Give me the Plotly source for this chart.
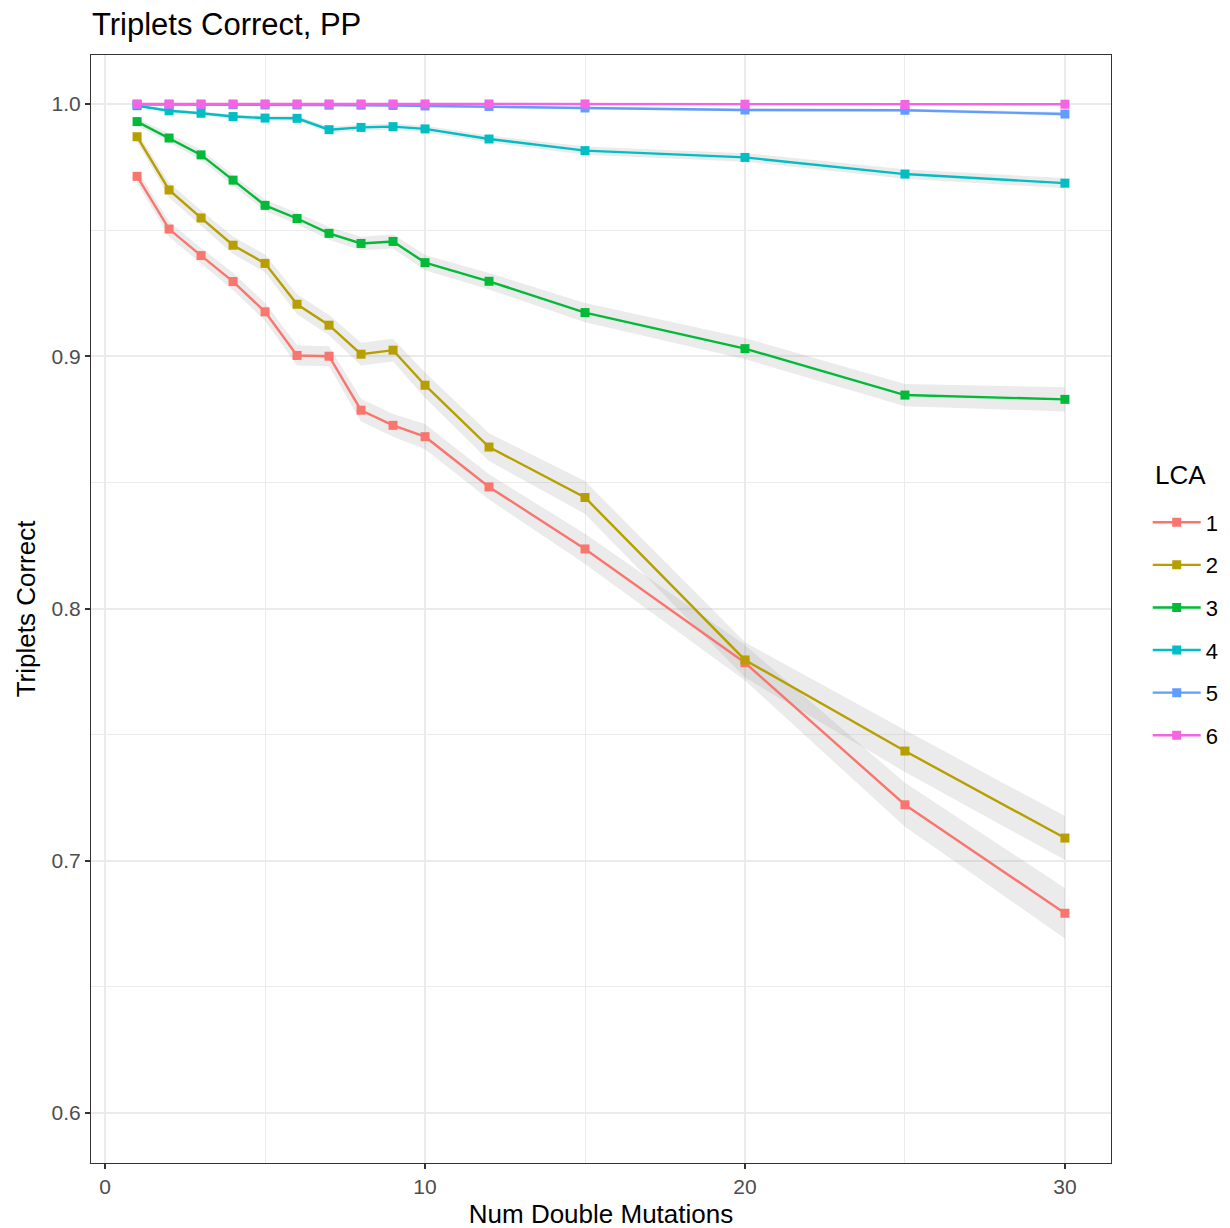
import plotly.graph_objects as go

x_vals = [1, 2, 3, 4, 5, 6, 7, 8, 9, 10, 12, 15, 20, 25, 30]
lca_labels = ["1", "2", "3", "4", "5", "6"]
colors = ["#F8766D", "#B79F00", "#00BA38", "#00BFC4", "#619CFF", "#F564E3"]

lca1 = [0.9713, 0.9504, 0.9399, 0.9296, 0.9176, 0.9003, 0.9000, 0.8786, 0.8726, 0.8681, 0.8482, 0.8236, 0.7785, 0.7222, 0.6792]
lca2 = [0.9870, 0.9659, 0.9548, 0.9440, 0.9368, 0.9206, 0.9123, 0.9008, 0.9024, 0.8885, 0.8640, 0.8440, 0.7796, 0.7435, 0.7090]
lca3 = [0.9930, 0.9865, 0.9798, 0.9698, 0.9598, 0.9546, 0.9487, 0.9447, 0.9455, 0.9371, 0.9297, 0.9173, 0.9030, 0.8846, 0.8829]
lca4 = [0.9993, 0.9973, 0.9963, 0.9950, 0.9944, 0.9943, 0.9898, 0.9907, 0.9910, 0.9901, 0.9861, 0.9815, 0.9788, 0.9722, 0.9686]
lca5 = [0.9998, 0.9998, 0.9997, 0.9997, 0.9996, 0.9996, 0.9995, 0.9995, 0.9994, 0.9992, 0.9990, 0.9984, 0.9976, 0.9975, 0.9960]
lca6 = [1.0000, 1.0000, 1.0000, 1.0000, 1.0000, 1.0000, 1.0000, 1.0000, 1.0000, 1.0000, 1.0000, 1.0000, 0.9999, 0.9998, 0.9999]

# half-width of grey confidence ribbons
se1 = [0.0025, 0.003, 0.003, 0.0035, 0.0035, 0.004, 0.004, 0.0045, 0.0045, 0.005, 0.005, 0.006, 0.007, 0.0087, 0.010]
se2 = [0.002, 0.003, 0.003, 0.0035, 0.0035, 0.004, 0.004, 0.0045, 0.0045, 0.005, 0.0055, 0.0065, 0.007, 0.0083, 0.0087]
se3 = [0.0015, 0.0018, 0.002, 0.002, 0.0022, 0.0023, 0.0025, 0.0027, 0.0028, 0.003, 0.0033, 0.0038, 0.0042, 0.0044, 0.0048]
se4 = [0.0004, 0.0006, 0.0007, 0.0008, 0.0009, 0.001, 0.0012, 0.0012, 0.0012, 0.0013, 0.0014, 0.0016, 0.0017, 0.0019, 0.002]
se5 = [0.0002, 0.0002, 0.0002, 0.0003, 0.0003, 0.0003, 0.0003, 0.0003, 0.0004, 0.0004, 0.0004, 0.0005, 0.0006, 0.0006, 0.0008]
se6 = [0.0001] * 15

series = [lca1, lca2, lca3, lca4, lca5, lca6]
ses = [se1, se2, se3, se4, se5, se6]

fig = go.Figure()

# ribbons first
for ys, se in zip(series, ses):
    upper = [y + s for y, s in zip(ys, se)]
    lower = [y - s for y, s in zip(ys, se)]
    fig.add_trace(go.Scatter(
        x=x_vals + x_vals[::-1],
        y=upper + lower[::-1],
        fill="toself",
        fillcolor="rgba(153,153,153,0.2)",
        line=dict(width=0),
        mode="lines",
        hoverinfo="skip",
        showlegend=False,
    ))

for lab, ys, col in zip(lca_labels, series, colors):
    fig.add_trace(go.Scatter(
        x=x_vals, y=ys, name=lab, legendgroup=lab,
        mode="lines+markers",
        line=dict(color=col, width=2.4),
        marker=dict(symbol="square", size=9, color=col),
    ))

grid_major = "#EBEBEB"
font_family = "Liberation Sans, Arial, sans-serif"

fig.update_layout(
    width=1230, height=1228,
    paper_bgcolor="white", plot_bgcolor="white",
    margin=dict(l=83, r=127, t=47, b=73),
    font=dict(family=font_family, color="black"),
    title=dict(text="Triplets Correct, PP", x=84/1230, xanchor="left",
               y=1 - 16/1228, yanchor="middle", yref="container",
               font=dict(size=31, color="black")),
    showlegend=True,
    legend=dict(font=dict(size=22), x=1.036, xanchor="left",
                y=0.482, yanchor="middle", tracegroupgap=11, itemwidth=48,
                bgcolor="rgba(0,0,0,0)"),
    annotations=[dict(text="LCA", xref="paper", yref="paper",
                      x=(1145 - 83) / 1020, xanchor="left",
                      y=1 - (467 - 47) / 1108, yanchor="middle",
                      showarrow=False, font=dict(size=26, color="black"))],
    xaxis=dict(
        range=[-0.44, 31.44], tickvals=[0, 10, 20, 30],
        showgrid=True, gridcolor=grid_major, gridwidth=2,
        minor=dict(tickvals=[5, 15, 25], showgrid=True, gridcolor=grid_major, gridwidth=1, ticks=""),
        zeroline=False, showline=True, mirror=True, linecolor="#333333", linewidth=1,
        ticks="outside", ticklen=5, tickcolor="#333333", tickwidth=2,
        tickfont=dict(size=21, color="#4D4D4D"),
        title=dict(text="Num Double Mutations", font=dict(size=26), standoff=7),
    ),
    yaxis=dict(
        range=[0.5802, 1.0194], tickvals=[0.6, 0.7, 0.8, 0.9, 1.0],
        ticktext=["0.6", "0.7", "0.8", "0.9", "1.0"],
        showgrid=True, gridcolor=grid_major, gridwidth=2,
        minor=dict(tickvals=[0.65, 0.75, 0.85, 0.95], showgrid=True, gridcolor=grid_major, gridwidth=1, ticks=""),
        zeroline=False, showline=True, mirror=True, linecolor="#333333", linewidth=1,
        ticks="outside", ticklen=5, tickcolor="#333333", tickwidth=2,
        tickfont=dict(size=21, color="#4D4D4D"),
        title=dict(text="Triplets Correct", font=dict(size=26), standoff=8),
    ),
)

fig.write_html("out.html")
